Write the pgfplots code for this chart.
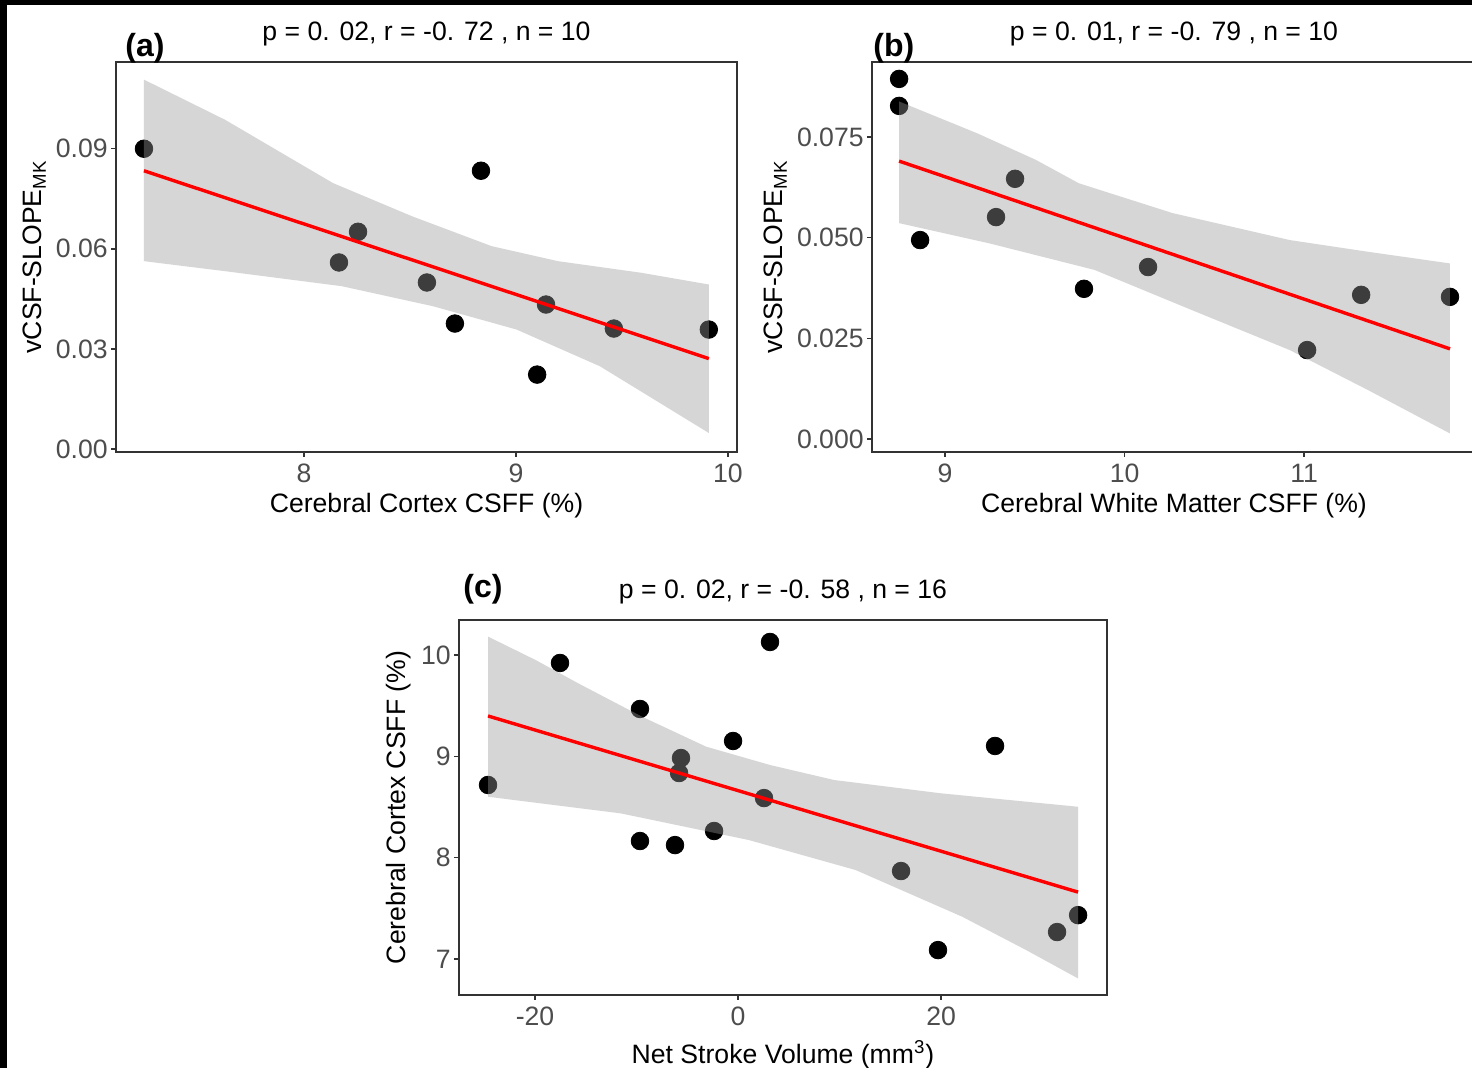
\documentclass[border=0pt]{standalone}
\usepackage{fontspec}
\setmainfont{Liberation Sans}
\usepackage{pgfplots}
\pgfplotsset{compat=1.18}

\definecolor{band}{RGB}{153,153,153}
\definecolor{frame}{RGB}{51,51,51}
\definecolor{ticktext}{RGB}{77,77,77}
\newcommand\tsz{\fontsize{13.3}{16}\selectfont}
\newcommand\lsz{\fontsize{16}{19}\selectfont\bfseries}

\pgfplotsset{
  panel/.style={
    scale only axis, anchor=south west,
    clip marker paths=true,
    axis line style={frame, line width=0.75pt},
    every tick/.append style={frame, line width=0.75pt},
    tick align=outside, tick pos=left, major tick length=2.5pt,
    scaled ticks=false,
    tick label style={font=\tsz, text=ticktext},
    every tick label/.append style={inner sep=1.5pt},
    xticklabel style={yshift=-2pt},
    label style={font=\tsz, text=black},
  },
  dots/.style={only marks, mark=*, mark size=4.4pt, black},
  ci/.style={fill=band, fill opacity=0.4, draw=none, forget plot},
  fit/.style={red, line width=1.7pt, no marks},
}

\begin{document}
\begin{tikzpicture}
\path[use as bounding box] (0,0) rectangle (736pt,534pt);
\clip (0,0) rectangle (736pt,534pt);
\fill[white] (0,0) rectangle (736pt,534pt);
\fill[black] (0,531.5pt) rectangle (736pt,534pt);
\fill[black] (0,0) rectangle (3.5pt,534pt);

% (a)
\begin{axis}[panel, at={(58pt,308pt)}, width=310.5pt, height=195pt,
  xmin=7.113, xmax=10.043, ymin=-0.0009, ymax=0.116,
  xtick={8,9,10}, xticklabels={8,9,10},
  ytick={0,0.03,0.06,0.09}, yticklabels={0.00,0.03,0.06,0.09},
  xlabel={Cerebral Cortex CSFF (\%)}, ylabel={vCSF-SLOPE\textsubscript{MK}}]
\addplot[dots] coordinates {
(7.245,0.0900) (8.835,0.0834) (8.255,0.0651) (8.165,0.0559) (8.580,0.0499)
(8.712,0.0376) (9.142,0.0433) (9.462,0.0361) (9.100,0.0223) (9.910,0.0358)};
\addplot[ci] coordinates {
(7.245,0.1107) (7.627,0.0987) (8.137,0.0797) (8.512,0.0697) (8.885,0.0608)
(9.198,0.0563) (9.593,0.0528) (9.910,0.0493)
(9.910,0.0048) (9.396,0.0248) (9.003,0.0358) (8.608,0.0428) (8.178,0.0488)
(7.627,0.0533) (7.245,0.0563)} -- cycle;
\addplot[fit] coordinates {(7.245,0.0834) (9.910,0.0271)};
\end{axis}

% (b)
\begin{axis}[panel, at={(436pt,308pt)}, width=302pt, height=195pt,
  xmin=8.593, xmax=11.958, ymin=-0.0032, ymax=0.0936,
  xtick={9,10,11}, xticklabels={9,10,11},
  ytick={0,0.025,0.05,0.075}, yticklabels={0.000,0.025,0.050,0.075},
  xlabel={Cerebral White Matter CSFF (\%)}, ylabel={vCSF-SLOPE\textsubscript{MK}}]
\addplot[dots] coordinates {
(8.744,0.0894) (8.744,0.0827) (8.861,0.0494) (9.284,0.0551) (9.390,0.0646)
(9.774,0.0373) (10.131,0.0427) (11.017,0.0221) (11.318,0.0358) (11.813,0.0353)};
\addplot[ci] coordinates {
(8.744,0.0838) (9.179,0.0759) (9.506,0.0693) (9.745,0.0635) (10.267,0.0561)
(10.920,0.0494) (11.355,0.0465) (11.813,0.0436)
(11.813,0.0014) (11.355,0.0122) (10.920,0.0221) (10.376,0.0320) (9.832,0.0420)
(9.245,0.0486) (8.744,0.0536)} -- cycle;
\addplot[fit] coordinates {(8.744,0.0690) (11.813,0.0224)};
\end{axis}

% (c)
\begin{axis}[panel, at={(229.5pt,36.5pt)}, width=324pt, height=187.5pt,
  xmin=-27.49, xmax=36.35, ymin=6.645, ymax=10.345,
  xtick={-20,0,20}, xticklabels={-20,0,20},
  ytick={7,8,9,10}, yticklabels={7,8,9,10},
  xlabel style={yshift=-2pt},
  xlabel={Net Stroke Volume (mm\textsuperscript{3})}, ylabel={Cerebral Cortex CSFF (\%)}]
\addplot[dots] coordinates {
(-24.63,8.717) (-17.54,9.921) (-9.66,9.467) (-9.66,8.164) (-6.21,8.124)
(-5.62,8.983) (-5.81,8.835) (-2.36,8.263) (-0.49,9.151) (2.56,8.588)
(3.15,10.128) (16.06,7.868) (19.70,7.088) (25.32,9.102) (31.43,7.266) (33.50,7.433)};
\addplot[ci] coordinates {
(-24.63,10.181) (-19.96,9.951) (-15.76,9.721) (-9.46,9.391) (-3.14,9.095)
(3.16,8.914) (9.47,8.766) (19.98,8.635) (33.50,8.502)
(33.50,6.808) (28.39,7.088) (22.09,7.417) (11.58,7.878) (1.06,8.174)
(-11.56,8.437) (-24.63,8.601)} -- cycle;
\addplot[fit] coordinates {(-24.63,9.398) (33.50,7.660)};
\end{axis}

\node[anchor=base, font=\tsz] at (213.25pt,513.5pt) {p = 0. 02, r = -0. 72 , n = 10};
\node[anchor=base, font=\tsz] at (587pt,513.5pt) {p = 0. 01, r = -0. 79 , n = 10};
\node[anchor=base, font=\tsz] at (391.5pt,234.5pt) {p = 0. 02, r = -0. 58 , n = 16};
\node[anchor=base west, font=\lsz, inner sep=0pt] at (62.5pt,505.5pt) {(a)};
\node[anchor=base west, font=\lsz, inner sep=0pt] at (436.5pt,505.5pt) {(b)};
\node[anchor=base west, font=\lsz, inner sep=0pt] at (231.5pt,235pt) {(c)};
\end{tikzpicture}
\end{document}
